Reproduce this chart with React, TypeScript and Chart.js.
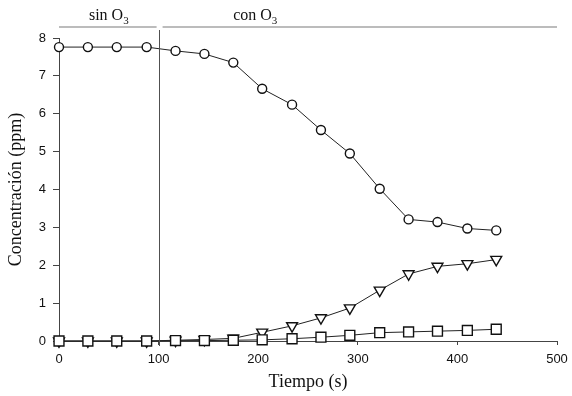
import React, { useEffect, useRef } from "react";
import { Chart, registerables } from "chart.js";

Chart.register(...registerables);

// ---- data ----
const timeSeconds: number[] = [0, 29, 58, 88, 117, 146, 175, 204, 234, 263, 292, 322, 351, 380, 410, 439];
const circleSeries: number[] = [7.76, 7.76, 7.76, 7.76, 7.66, 7.58, 7.35, 6.66, 6.24, 5.57, 4.95, 4.02, 3.21, 3.14, 2.97, 2.92];
const triangleSeries: number[] = [0, 0, 0, 0, 0.02, 0.04, 0.07, 0.23, 0.4, 0.61, 0.87, 1.34, 1.77, 1.97, 2.04, 2.15];
const squareSeries: number[] = [0, 0, 0, 0, 0.01, 0.01, 0.02, 0.03, 0.06, 0.1, 0.15, 0.22, 0.24, 0.26, 0.28, 0.31];

const xTitle = "Tiempo (s)";
const yTitle = "Concentración (ppm)";
const phaseLabels: string[] = ["sin O", "con O"];
const phaseSubscript = "3";
const ozoneStart = 100;

const toPoints = (vals: number[]) => vals.map((v, i) => ({ x: timeSeconds[i], y: v }));

const phasePlugin = {
  id: "phases",
  afterDraw(chart: any) {
    const { ctx, scales } = chart;
    const x = scales.x;
    const y = scales.y;
    const px = (v: number) => x.getPixelForValue(v);
    const lineY = 27;
    ctx.save();
    // horizontal phase lines
    ctx.strokeStyle = "#7a7a7a";
    ctx.lineWidth = 1.2;
    ctx.beginPath();
    ctx.moveTo(px(0), lineY);
    ctx.lineTo(px(98), lineY);
    ctx.moveTo(px(104), lineY);
    ctx.lineTo(px(500), lineY);
    ctx.stroke();
    // vertical separator
    ctx.strokeStyle = "#505050";
    ctx.lineWidth = 1;
    const vx = Math.round(px(ozoneStart)) + 0.5;
    ctx.beginPath();
    ctx.moveTo(vx, 30);
    ctx.lineTo(vx, y.getPixelForValue(0) + 5);
    ctx.stroke();
    // labels with subscript
    const drawSub = (main: string, cx: number, baseline: number) => {
      ctx.fillStyle = "#111";
      ctx.textBaseline = "alphabetic";
      ctx.textAlign = "left";
      ctx.font = "16px 'Liberation Serif'";
      const w1 = ctx.measureText(main).width;
      ctx.font = "11px 'Liberation Serif'";
      const w2 = ctx.measureText(phaseSubscript).width;
      const start = cx - (w1 + w2) / 2;
      ctx.font = "16px 'Liberation Serif'";
      ctx.fillText(main, start, baseline);
      ctx.font = "11px 'Liberation Serif'";
      ctx.fillText(phaseSubscript, start + w1, baseline + 4);
    };
    drawSub(phaseLabels[0], px(50), 20);
    drawSub(phaseLabels[1], px(197), 20);
    ctx.restore();
  },
};

export default function App() {
  const ref = useRef<HTMLCanvasElement | null>(null);
  useEffect(() => {
    if (!ref.current) return;
    const common = {
      borderColor: "#222",
      borderWidth: 1,
      pointBackgroundColor: "#fff",
      pointBorderColor: "#111",
      pointBorderWidth: 1.4,
      fill: false,
      tension: 0,
      clip: false as const,
    };
    const chart = new Chart(ref.current, {
      type: "line",
      data: {
        datasets: [
          { ...common, label: "c", data: toPoints(squareSeries), pointStyle: "rect", pointRadius: 7 },
          { ...common, label: "b", data: toPoints(triangleSeries), pointStyle: "triangle", pointRotation: 180, pointRadius: 6.3 },
          { ...common, label: "a", data: toPoints(circleSeries), pointStyle: "circle", pointRadius: 4.5 },
        ],
      },
      options: {
        responsive: false,
        animation: false,
        devicePixelRatio: 1,
        layout: { padding: { top: 38, right: 15, left: 0, bottom: 0 } },
        plugins: { legend: { display: false }, tooltip: { enabled: false } },
        scales: {
          x: {
            type: "linear",
            min: 0,
            max: 500,
            ticks: { stepSize: 100, color: "#111", padding: 7, font: { family: "'Liberation Sans'", size: 13 } },
            grid: { drawOnChartArea: false, drawTicks: true, tickLength: 4, color: "#444" },
            border: { display: true, color: "#444", width: 1 },
            title: {
              display: true,
              text: xTitle,
              color: "#111",
              font: { family: "'Liberation Serif'", size: 18 },
              padding: { top: 0, bottom: 3 },
            },
            afterFit(scale: any) {
              scale.height = 55;
              scale.paddingRight = 0;
              scale.paddingLeft = 0;
            },
          },
          y: {
            type: "linear",
            min: 0,
            max: 8,
            ticks: { stepSize: 1, color: "#111", padding: 7, font: { family: "'Liberation Sans'", size: 13 } },
            grid: { drawOnChartArea: false, drawTicks: true, tickLength: 6, color: "#444" },
            border: { display: true, color: "#444", width: 1 },
            title: {
              display: true,
              text: yTitle,
              color: "#111",
              font: { family: "'Liberation Serif'", size: 18 },
              padding: { top: 5, bottom: 0 },
            },
            afterFit(scale: any) {
              scale.width = 59;
              scale.paddingTop = 0;
              scale.paddingBottom = 0;
            },
          },
        },
      },
      plugins: [phasePlugin],
    });
    return () => chart.destroy();
  }, []);
  return (
    <div style={{ position: "fixed", left: 0, top: 0, width: 572, height: 396, background: "#fff" }}>
      <canvas ref={ref} width={572} height={396} />
    </div>
  );
}
